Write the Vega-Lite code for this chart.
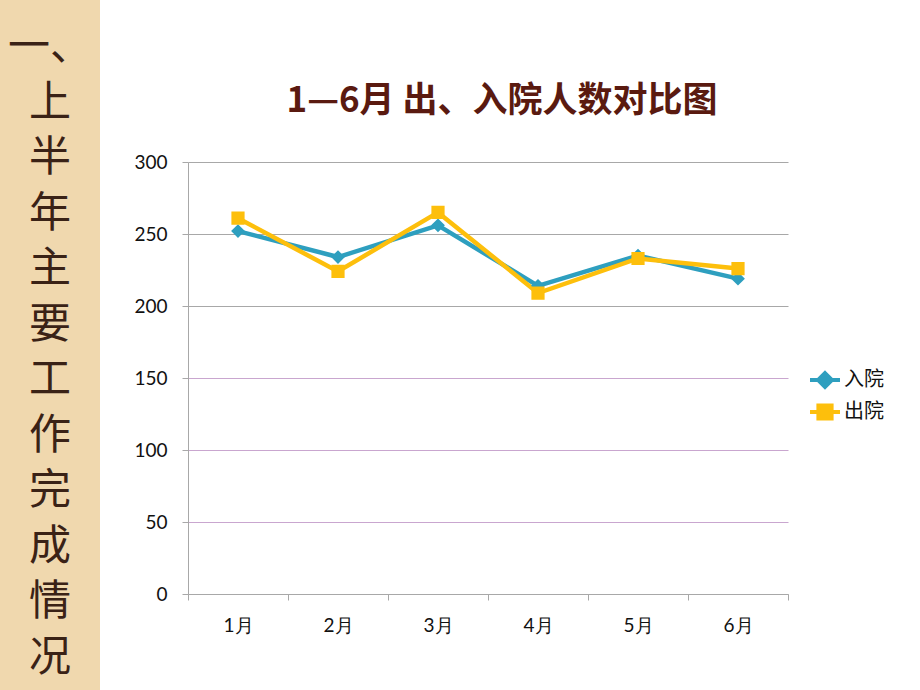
{
  "$schema": "https://vega.github.io/schema/vega-lite/v6.json",
  "padding": 0,
  "spacing": 28,
  "background": "white",
  "datasets": {
    "sidebar": [
      {"char": "一、", "i": 0},
      {"char": "上", "i": 1},
      {"char": "半", "i": 2},
      {"char": "年", "i": 3},
      {"char": "主", "i": 4},
      {"char": "要", "i": 5},
      {"char": "工", "i": 6},
      {"char": "作", "i": 7},
      {"char": "完", "i": 8},
      {"char": "成", "i": 9},
      {"char": "情", "i": 10},
      {"char": "况", "i": 11}
    ],
    "monthly": [
      {"month": "1月", "type": "入院", "value": 252},
      {"month": "2月", "type": "入院", "value": 234},
      {"month": "3月", "type": "入院", "value": 256},
      {"month": "4月", "type": "入院", "value": 214},
      {"month": "5月", "type": "入院", "value": 235},
      {"month": "6月", "type": "入院", "value": 219},
      {"month": "1月", "type": "出院", "value": 261},
      {"month": "2月", "type": "出院", "value": 224},
      {"month": "3月", "type": "出院", "value": 265},
      {"month": "4月", "type": "出院", "value": 209},
      {"month": "5月", "type": "出院", "value": 233},
      {"month": "6月", "type": "出院", "value": 226}
    ]
  },
  "hconcat": [
    {
      "width": 100,
      "height": 690,
      "view": {"fill": "#f0d8ae", "stroke": null},
      "data": {"name": "sidebar"},
      "mark": {"type": "text", "font": "Noto Sans CJK SC", "fontSize": 42, "color": "#3a2216", "align": "center", "baseline": "middle"},
      "encoding": {
        "y": {"field": "i", "type": "quantitative", "scale": {"domain": [-0.85, 11.58], "reverse": true, "nice": false, "zero": false}, "axis": null},
        "text": {"field": "char", "type": "nominal"}
      }
    },
    {
      "width": 600,
      "height": 690,
      "view": {"stroke": null},
      "title": {"text": "1—6月 出、入院人数对比图", "font": "Noto Sans CJK SC", "fontSize": 35, "fontWeight": "bold", "color": "#5a1a10", "offset": -119, "dx": 14},
      "data": {"name": "monthly"},
      "encoding": {
        "x": {
          "field": "month", "type": "nominal",
          "sort": ["1月", "2月", "3月", "4月", "5月", "6月"],
          "scale": {"type": "band", "paddingInner": 0, "paddingOuter": 0},
          "axis": {
            "title": null, "labelAngle": 0, "grid": false, "tickBand": "extent", "offset": -96,
            "tickSize": 6, "tickColor": "#a8a8a8", "domainColor": "#a8a8a8",
            "labelFont": "Lato", "labelFontSize": 19, "labelColor": "#111111", "labelPadding": 16
          }
        },
        "y": {
          "field": "value", "type": "quantitative",
          "scale": {"domain": [0, 300], "nice": false, "range": [594, 162]},
          "axis": {
            "values": [0, 50, 100, 150, 200, 250, 300],
            "title": "人数", "titleOpacity": 0, "titleFontSize": 10, "titleAngle": 0,
            "titleX": -60, "titleY": 655, "titleAlign": "left", "titleBaseline": "top",
            "tickSize": 6, "tickColor": "#a8a8a8", "domainColor": "#a8a8a8",
            "gridColor": {"condition": {"test": "datum.value <= 150 && datum.value > 0", "value": "#c9a6cf"}, "value": "#a8a8a8"},
            "gridOpacity": 1,
            "labelFont": "Lato", "labelFontSize": 19, "labelColor": "#111111", "labelPadding": 15
          }
        },
        "color": {
          "field": "type", "type": "nominal",
          "scale": {"domain": ["入院", "出院"], "range": ["#2e9fbf", "#fdbf0c"]},
          "legend": {
            "title": null, "orient": "none", "legendX": 808, "legendY": 363, "padding": 0,
            "labelFont": "Noto Sans CJK SC", "labelFontSize": 20, "labelColor": "#111111",
            "labelOffset": 2, "rowPadding": 0, "symbolSize": 900, "symbolStrokeWidth": 4,
            "encode": {
              "symbols": {
                "update": {
                  "stroke": {"signal": "datum.value == '入院' ? '#2e9fbf' : '#fdbf0c'"},
                  "strokeWidth": {"value": 4}
                }
              }
            }
          }
        }
      },
      "layer": [
        {"mark": {"type": "line", "strokeWidth": 4.5}},
        {
          "mark": {"type": "point", "filled": true, "opacity": 1, "strokeWidth": 0},
          "encoding": {
            "shape": {"field": "type", "type": "nominal", "scale": {"domain": ["入院", "出院"], "range": ["M-1,0H1M0,-0.46L0.46,0L0,0.46L-0.46,0Z", "M-1,0H1M-0.44,-0.44H0.44V0.44H-0.44Z"]}},
            "size": {"value": 900}
          }
        }
      ]
    }
  ]
}
